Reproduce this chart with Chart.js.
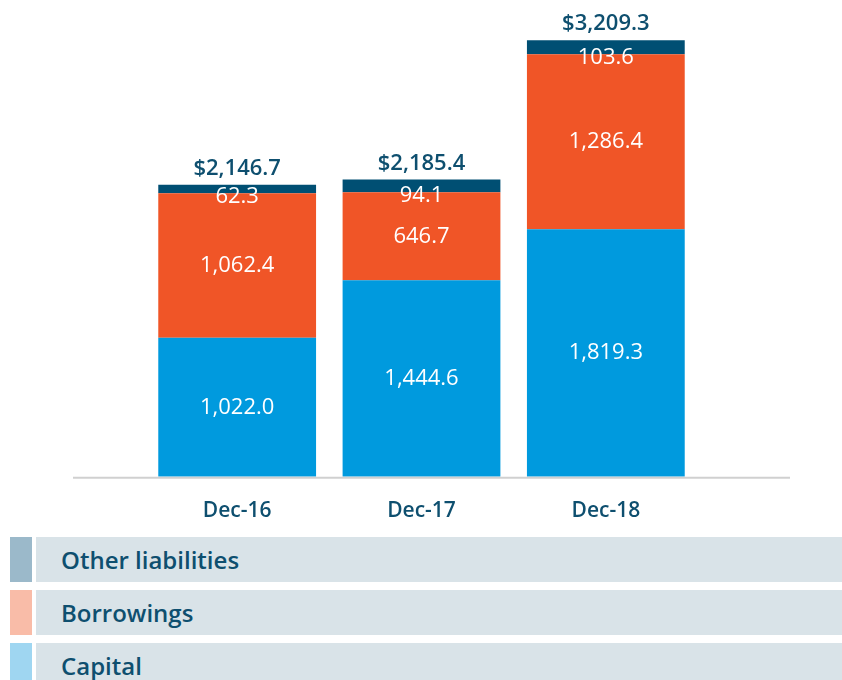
<!DOCTYPE html>
<html>
<head>
<meta charset="utf-8">
<script src="https://cdn.jsdelivr.net/npm/chart.js@4/dist/chart.umd.min.js"></script>
<style>
  body { margin: 0; background: #fff; font-family: "Open Sans", sans-serif; }
  #wrap { position: relative; width: 842px; height: 538px; }
  .legend { position: absolute; left: 0; top: 537px; width: 842px; }
  .row { position: relative; height: 45px; margin-bottom: 8px; }
  .sw { position: absolute; left: 10px; top: 0; width: 22px; height: 45px; }
  .lab { position: absolute; left: 36px; right: 0; top: 0; height: 45px; background: #d9e3e8;
         color: #0e4f6f; font-size: 24px; font-weight: 600; line-height: 45px; padding-left: 25px; }
</style>
</head>
<body>
<div id="wrap"><canvas id="c"></canvas></div>
<div class="legend" id="legend"></div>
<script>
const categories = ['Dec-16', 'Dec-17', 'Dec-18'];
const capital = [1022.0, 1444.6, 1819.3];
const borrowings = [1062.4, 646.7, 1286.4];
const otherLiabilities = [62.3, 94.1, 103.6];
const totals = [2146.7, 2185.4, 3209.3];

const legendItems = [
  { name: 'Other liabilities', swatch: '#9bb9ca' },
  { name: 'Borrowings', swatch: '#f9bca8' },
  { name: 'Capital', swatch: '#9fd6f1' }
];

// legenda HTML
const legend = document.getElementById('legend');
legendItems.forEach(function (it) {
  const row = document.createElement('div');
  row.className = 'row';
  row.innerHTML = '<div class="sw" style="background:' + it.swatch + '"></div><div class="lab">' + it.name + '</div>';
  legend.appendChild(row);
});

function fmt(v) {
  return v.toLocaleString('en-US', { minimumFractionDigits: 1, maximumFractionDigits: 1 });
}

// nhãn trong các đoạn cột + tổng ở trên
const labelPlugin = {
  id: 'segLabels',
  afterDatasetsDraw(chart) {
    const ctx = chart.ctx;
    ctx.save();
    ctx.textAlign = 'center';
    ctx.textBaseline = 'middle';
    ctx.font = '22px "Open Sans"';
    ctx.fillStyle = '#ffffff';
    chart.data.datasets.forEach(function (ds, di) {
      const meta = chart.getDatasetMeta(di);
      meta.data.forEach(function (bar, i) {
        let y = (bar.y + bar.base) / 2;
        if (ds.small) y = bar.base + 3;
        ctx.fillText(fmt(ds.data[i]), bar.x, y);
      });
    });
    const top = chart.getDatasetMeta(chart.data.datasets.length - 1);
    ctx.font = '600 22px "Open Sans"';
    ctx.fillStyle = '#0e4f6f';
    top.data.forEach(function (bar, i) {
      ctx.fillText('$' + fmt(totals[i]), bar.x, bar.y - 16);
    });
    // đường trục ngang
    const a = chart.chartArea;
    ctx.strokeStyle = '#d0d0d0';
    ctx.lineWidth = 2;
    ctx.beginPath();
    ctx.moveTo(73, a.bottom + 1);
    ctx.lineTo(790, a.bottom + 1);
    ctx.stroke();
    ctx.restore();
  }
};

new Chart(document.getElementById('c'), {
  type: 'bar',
  data: {
    labels: categories,
    datasets: [
      { label: 'Capital', data: capital, backgroundColor: '#009ade' },
      { label: 'Borrowings', data: borrowings, backgroundColor: '#f05527' },
      { label: 'Other liabilities', data: otherLiabilities, backgroundColor: '#004f73', small: true }
    ]
  },
  options: {
    responsive: true,
    maintainAspectRatio: false,
    animation: false,
    layout: { padding: { left: 145, right: 144, top: 8, bottom: 0 } },
    datasets: { bar: { categoryPercentage: 1, barPercentage: 0.856 } },
    plugins: { legend: { display: false }, tooltip: { enabled: false } },
    scales: {
      x: {
        stacked: true,
        grid: { display: false },
        border: { display: false },
        ticks: { color: '#0e4f6f', font: { family: 'Open Sans', size: 21, weight: '600' }, padding: 14 }
      },
      y: { stacked: true, display: false, min: 0, max: 3446 }
    }
  },
  plugins: [labelPlugin]
});
</script>
</body>
</html>
